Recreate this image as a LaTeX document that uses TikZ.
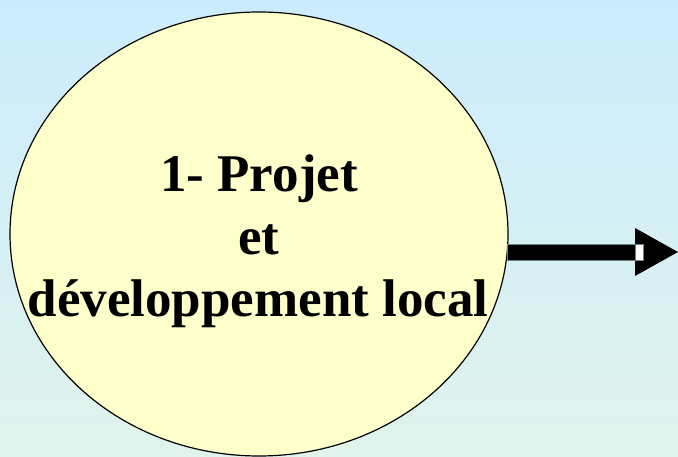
\documentclass[tikz,border=0pt]{standalone}
\usepackage{fontspec}
\setmainfont{Liberation Serif}
\definecolor{bgtop}{RGB}{204,236,253}
\definecolor{bgbot}{RGB}{224,243,236}
\definecolor{ellfill}{RGB}{255,255,204}
\definecolor{shaftline}{RGB}{110,130,135}
\tikzset{
  bubble/.style={draw=black, line width=1.2pt, fill=ellfill},
  label/.style={anchor=base, inner sep=0pt, font=\fontsize{53}{62.5}\selectfont\bfseries},
  shaft/.style={fill=black, draw=shaftline, line width=0.8pt},
  headtip/.style={fill=black},
  gap/.style={fill=white, draw=shaftline, line width=0.8pt}
}
\begin{document}
\begin{tikzpicture}[x=1pt,y=1pt]
  \useasboundingbox (0,0) rectangle (678,457);
  \shade[top color=bgtop, bottom color=bgbot] (0,0) rectangle (678,457);
  \coordinate (ctr) at (259,223);
  \draw[bubble] (ctr) ellipse [x radius=249, y radius=222];
  \node[label] (l1) at (259,265) {1- Projet};
  \node[label] (l2) at (259,202.5) {et};
  \node[label] (l3) at (258,140) {développement local};
  \coordinate (shaftstart) at (507,205);
  \coordinate (shaftend) at (635,205);
  \coordinate (tip) at (678,205);
  \path[shaft] (shaftstart |- 0,213) -- (shaftend |- 0,213) -- (shaftend |- 0,197) -- (shaftstart |- 0,197) -- cycle;
  \path[headtip] (635,229) -- (tip) -- (635,181) -- cycle;
  \path[gap] (635,213) rectangle (643,197);
\end{tikzpicture}
\end{document}
